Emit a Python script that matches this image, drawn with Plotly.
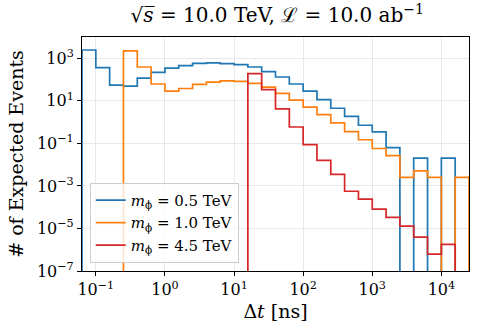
import numpy as np
import plotly.graph_objects as go

# bin edges: 0.2 decade wide, from 10^-1.2 to 10^4.4 ns
edge_exp = np.round(np.arange(-1.2, 4.41, 0.2), 1)
edges = 10 ** edge_exp

# expected events per bin (0 = empty bin)
events_05 = [2455, 363, 55, 49, 117, 219, 347, 447, 575, 603, 562, 501, 389, 234,
             132, 61.7, 28.8, 11.5, 4.47, 1.86, 0.71, 0.347, 0.063, 0, 0.0204, 0, 0.0204, 0]
events_10 = [0, 0, 0, 2239, 389, 61.7, 28.8, 38.0, 58.9, 75.9, 87.1, 81.3, 66.1, 43.7,
             22.4, 10.7, 5.0, 2.24, 0.91, 0.355, 0.148, 0.0575, 0.0263, 0.00251, 0.00513,
             0.00251, 0, 0.00251]
events_45 = [0, 0, 0, 0, 0, 0, 0, 0, 0, 0, 0, 0, 190.5, 33.9, 4.17, 0.589, 0.0871,
             0.0158, 0.00347, 5.6e-4, 2.4e-4, 8.1e-5, 3.3e-5, 1.29e-5, 3.9e-6, 6.2e-7,
             1.8e-6, 0]

names = ["0.5", "1.0", "4.5"]
colors = ["#1f77b4", "#ff7f0e", "#d62728"]
series = [events_05, events_10, events_45]

FONT = "DejaVu Serif"
floor = 1e-12  # empty bins drawn below the axis, like matplotlib's step on log scale


def step_xy(counts):
    c = [v if v > 0 else floor for v in counts]
    xs = [edges[0]] + list(edges) + [edges[-1]]
    ys = [floor] + c + [c[-1], floor]
    return xs, ys


fig = go.Figure()
for name, col, counts in zip(names, colors, series):
    xs, ys = step_xy(counts)
    fig.add_trace(go.Scatter(
        x=xs, y=ys, mode="lines", line=dict(color=col, width=1.7, shape="hv"),
        name="<i>m</i><sub>ϕ</sub> = " + name + " TeV",
    ))

x_exp = [-1, 0, 1, 2, 3, 4]
y_exp = [-7, -5, -3, -1, 1, 3]


def pow_text(p):
    return "10<sup>" + (str(p) if p >= 0 else "−" + str(-p)) + "</sup>"


axis_common = dict(
    type="log", showline=True, linecolor="black", linewidth=1.1, mirror=True,
    ticks="outside", ticklen=4, tickcolor="black", tickwidth=1,
    gridcolor="#e8e8e8", gridwidth=1, zeroline=False, automargin=False,
    tickfont=dict(family=FONT, size=16, color="black"),
    tickmode="array",
)

fig.update_xaxes(**axis_common, range=[-1.2, 4.4],
                 tickvals=[10 ** p for p in x_exp], ticktext=[pow_text(p) for p in x_exp],
                 title=dict(text="Δ<i>t</i> [ns]", font=dict(family=FONT, size=19, color="black"),
                            standoff=6))
fig.update_yaxes(**axis_common, range=[-7, 4],
                 tickvals=[10 ** p for p in y_exp], ticktext=[pow_text(p) for p in y_exp],
                 title=dict(text="# of Expected Events", font=dict(family=FONT, size=19, color="black"),
                            standoff=8))

fig.update_layout(
    width=478, height=336,
    margin=dict(l=82, r=9, t=37, b=65, autoexpand=False),
    plot_bgcolor="white", paper_bgcolor="white",
    title=dict(text="√<i>s̅</i>\u00a0=\u00a010.0 TeV, ℒ\u00a0=\u00a010.0 ab<sup>−1</sup>",
               x=0.58, xanchor="center", y=0.955, yanchor="middle",
               font=dict(family=FONT, size=20, color="black")),
    legend=dict(x=0.02, y=0.035, xanchor="left", yanchor="bottom",
                bgcolor="rgba(255,255,255,0.8)", bordercolor="#cccccc", borderwidth=1,
                font=dict(family=FONT, size=15, color="black")),
    showlegend=True,
)

# drop the page's default body margin so the figure sits at the window origin
fig.write_html("out.html", config={"displayModeBar": False},
               post_script="document.body.style.margin='0';")
